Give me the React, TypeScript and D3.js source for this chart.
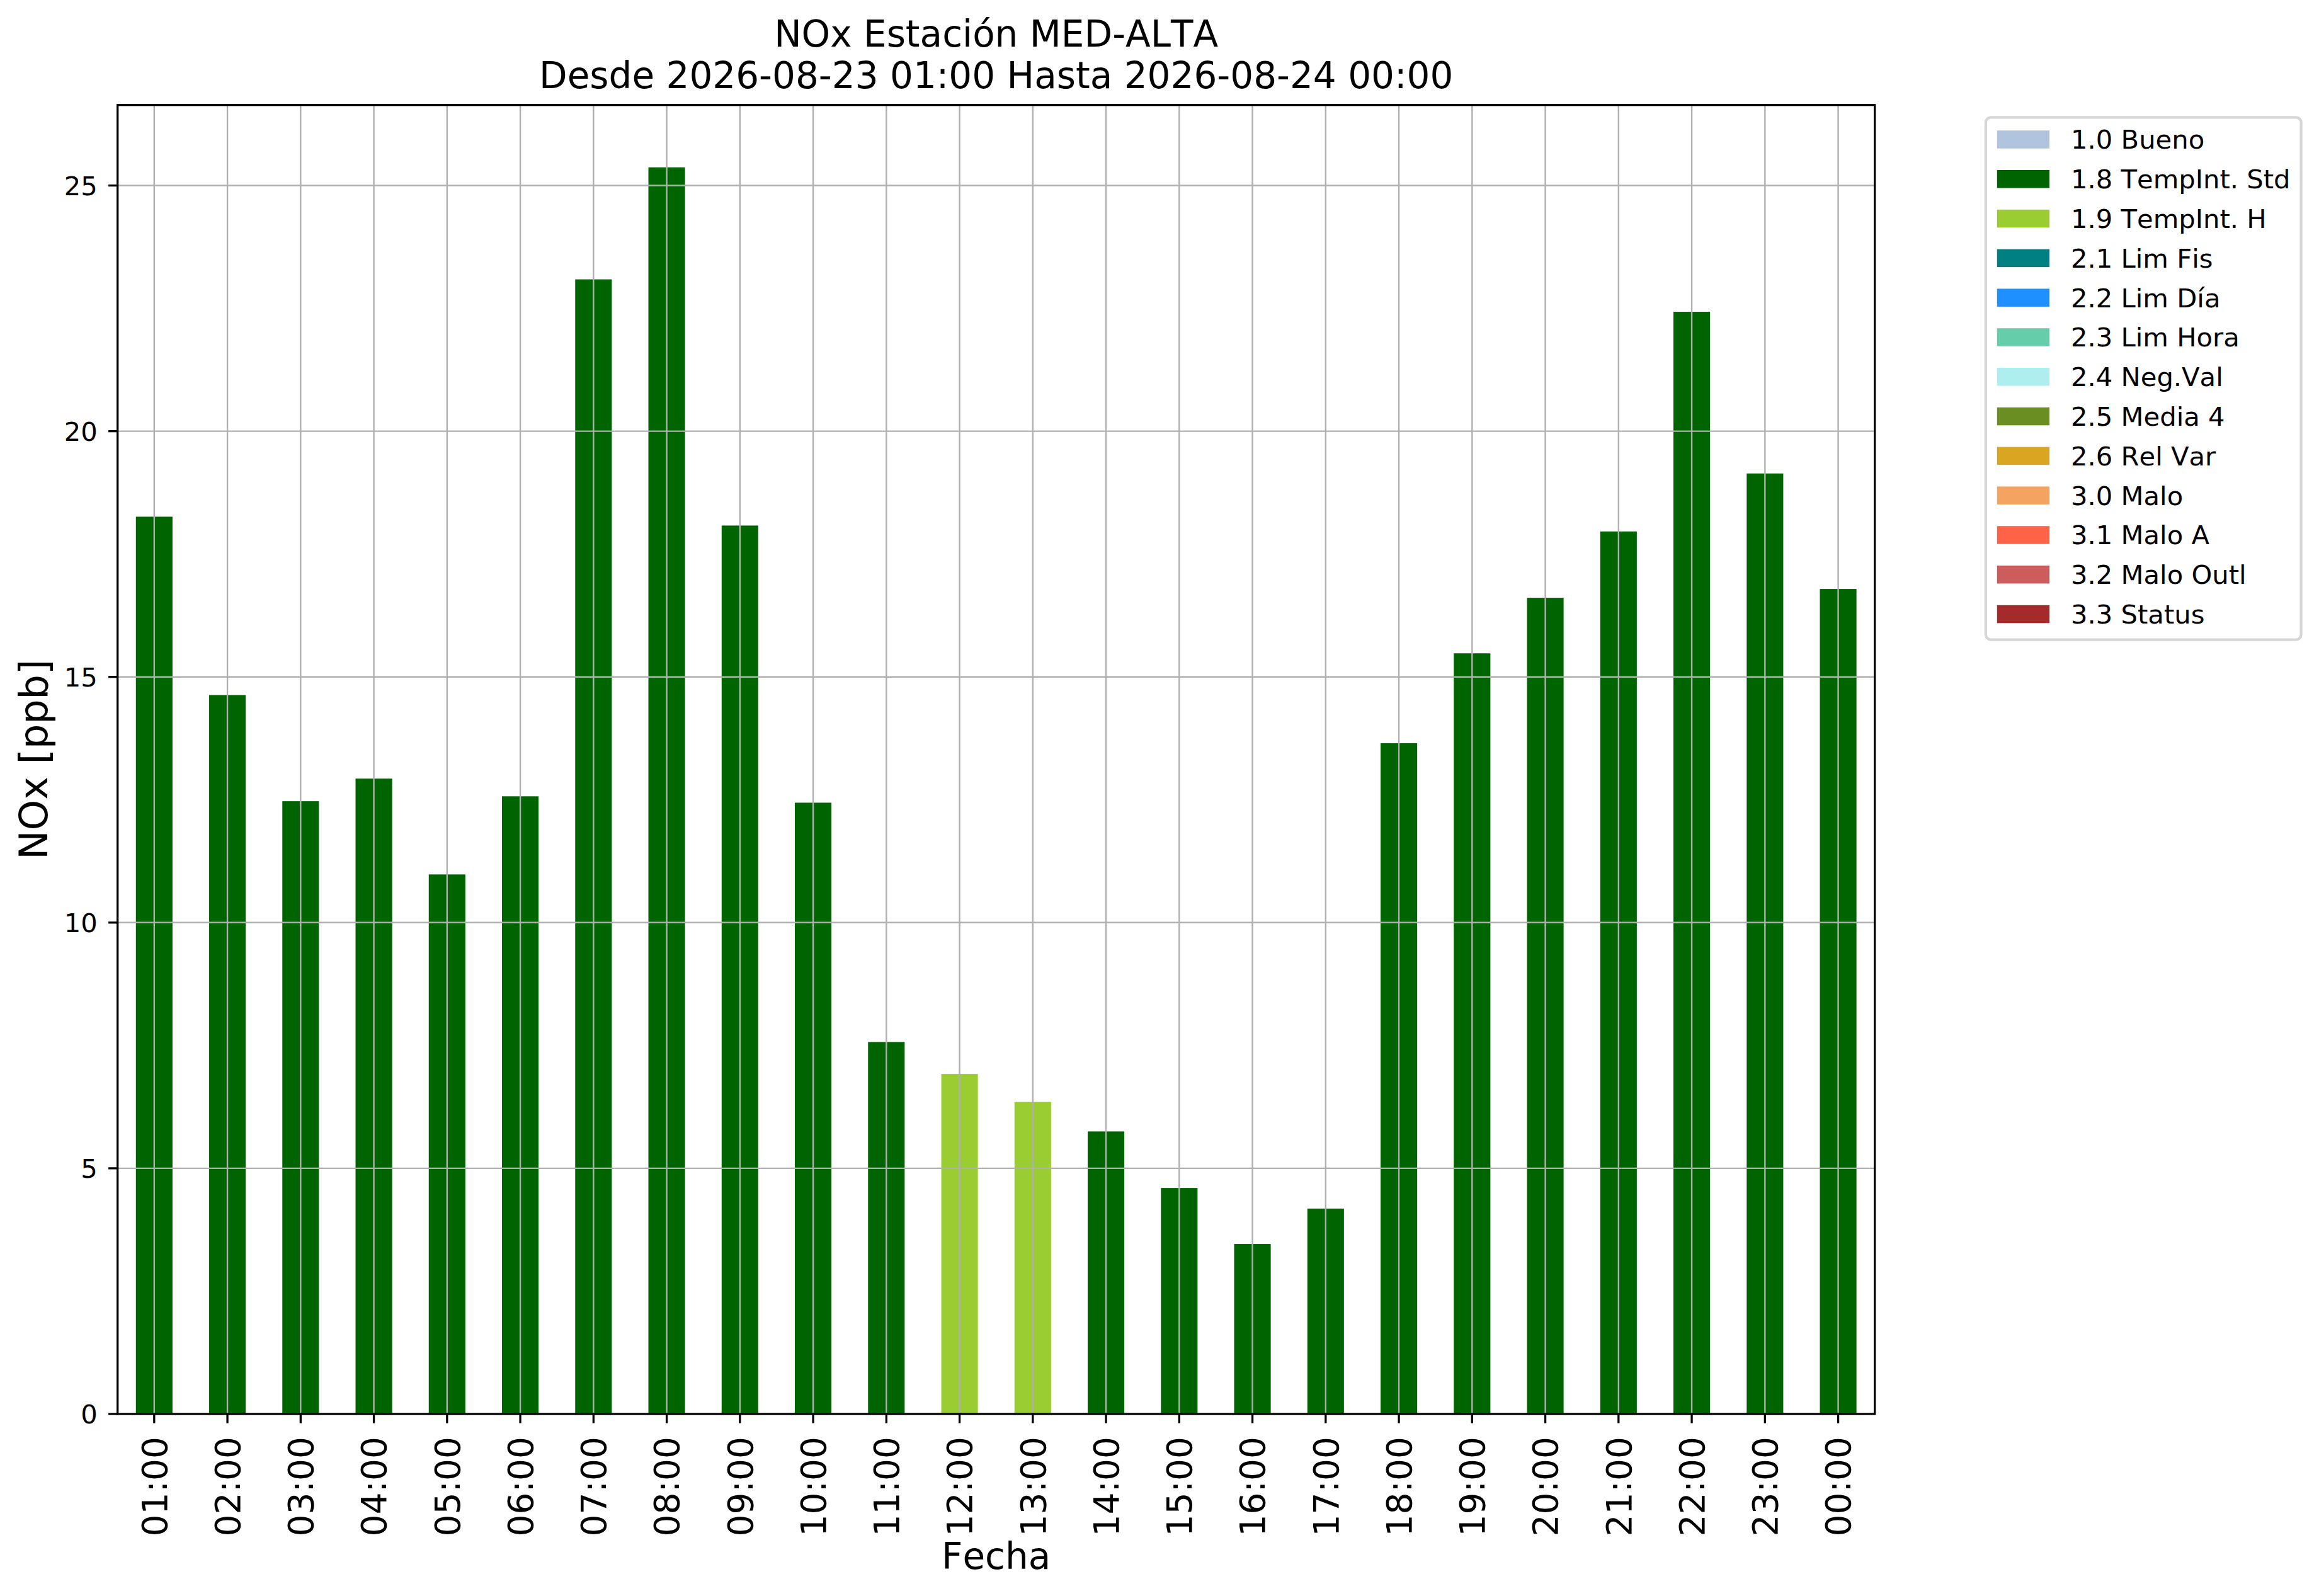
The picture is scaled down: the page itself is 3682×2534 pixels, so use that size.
import React from "react";
import { scaleBand, scaleLinear } from "d3";

const hours = [
  "01:00", "02:00", "03:00", "04:00", "05:00", "06:00", "07:00", "08:00",
  "09:00", "10:00", "11:00", "12:00", "13:00", "14:00", "15:00", "16:00",
  "17:00", "18:00", "19:00", "20:00", "21:00", "22:00", "23:00", "00:00"
];

const nox = [
  18.26, 14.63, 12.47, 12.93, 10.98, 12.57, 23.09, 25.37,
  18.08, 12.44, 7.57, 6.92, 6.35, 5.75, 4.6, 3.46,
  4.18, 13.65, 15.48, 16.61, 17.96, 22.43, 19.14, 16.79
];

// validation flag of each hour (code from the legend)
const flags = [
  "1.8", "1.8", "1.8", "1.8", "1.8", "1.8", "1.8", "1.8",
  "1.8", "1.8", "1.8", "1.9", "1.9", "1.8", "1.8", "1.8",
  "1.8", "1.8", "1.8", "1.8", "1.8", "1.8", "1.8", "1.8"
];

const legendCodes = ["1.0", "1.8", "1.9", "2.1", "2.2", "2.3", "2.4", "2.5", "2.6", "3.0", "3.1", "3.2", "3.3"];
const legendNames = [
  "Bueno", "TempInt. Std", "TempInt. H", "Lim Fis", "Lim Día", "Lim Hora",
  "Neg.Val", "Media 4", "Rel Var", "Malo", "Malo A", "Malo Outl", "Status"
];
const legendColors = [
  "#b0c4de", "#006400", "#9acd32", "#008080", "#1e90ff", "#66cdaa",
  "#afeeee", "#6b8e23", "#daa520", "#f4a460", "#ff6347", "#cd5c5c", "#a52a2a"
];

const yTicks = [0, 5, 10, 15, 20, 25];

const W = 3682;
const H = 2534;
const left = 186.7;
const right = 2976.7;
const top = 166.7;
const bottom = 2245;
const font = "DejaVu Sans";

export default function App() {
  const x = scaleBand<string>()
    .domain(hours)
    .range([left, right])
    .paddingInner(0.5)
    .paddingOuter(0.25);

  const yMax = Math.max(...nox) * 1.05;
  const y = scaleLinear().domain([0, yMax]).range([bottom, top]);

  const colorOf = (code: string) => legendColors[legendCodes.indexOf(code)];
  const midX = (left + right) / 2;
  const midY = (top + bottom) / 2;

  return (
    <svg
      width={W}
      height={H}
      viewBox={`0 0 ${W} ${H}`}
      style={{ position: "absolute", left: 0, top: 0, background: "#fff", fontKerning: "none" }}
      fontFamily={font}
    >
      {/* Title */}
      <text x={midX} y={74} textAnchor="middle" fontSize={58}>
        NOx Estación MED-ALTA
      </text>
      <text x={midX} y={140} textAnchor="middle" fontSize={58}>
        Desde 2026-08-23 01:00 Hasta 2026-08-24 00:00
      </text>

      {/* Bars */}
      {nox.map((v, i) => (
        <rect
          key={hours[i]}
          x={x(hours[i])}
          y={y(v)}
          width={x.bandwidth()}
          height={y(0) - y(v)}
          fill={colorOf(flags[i])}
        />
      ))}

      {/* Grid */}
      {yTicks.map((t) => (
        <line key={t} x1={left} x2={right} y1={y(t)} y2={y(t)} stroke="#b0b0b0" strokeWidth={2.4} />
      ))}
      {hours.map((h) => {
        const cx = x(h)! + x.bandwidth() / 2;
        return <line key={h} x1={cx} x2={cx} y1={top} y2={bottom} stroke="#b0b0b0" strokeWidth={2.4} />;
      })}

      {/* Frame */}
      <rect x={left} y={top} width={right - left} height={bottom - top} fill="none" stroke="#000" strokeWidth={3.3} />

      {/* Y axis */}
      {yTicks.map((t) => (
        <g key={t}>
          <line x1={left - 14.6} x2={left} y1={y(t)} y2={y(t)} stroke="#000" strokeWidth={3.3} />
          <text x={left - 32} y={y(t)} dy="0.36em" textAnchor="end" fontSize={41.7}>
            {t}
          </text>
        </g>
      ))}
      <text
        transform={`translate(75,${midY}) rotate(-90)`}
        textAnchor="middle"
        fontSize={62}
      >
        NOx [ppb]
      </text>

      {/* X axis */}
      {hours.map((h) => {
        const cx = x(h)! + x.bandwidth() / 2;
        return (
          <g key={h}>
            <line x1={cx} x2={cx} y1={bottom} y2={bottom + 14.6} stroke="#000" strokeWidth={3.3} />
            <text
              transform={`translate(${cx},${bottom + 36}) rotate(-90)`}
              dy="0.36em"
              textAnchor="end"
              fontSize={55}
            >
              {h}
            </text>
          </g>
        );
      })}
      <text x={midX} y={2491} textAnchor="middle" fontSize={58}>
        Fecha
      </text>

      {/* Legend */}
      <rect x={3152.9} y={186.4} width={3653.6 - 3152.9} height={1015.7 - 186.4} rx={8} fill="#fff" stroke="#d6d6d6" strokeWidth={4.2} />
      {legendCodes.map((c, i) => {
        const ry = 207.2 + i * 62.8;
        return (
          <g key={c}>
            <rect x={3170.8} y={ry} width={83.3} height={28.5} fill={legendColors[i]} />
            <text x={3288} y={ry + 14.25} dy="0.36em" fontSize={41.7}>
              {`${c} ${legendNames[i]}`}
            </text>
          </g>
        );
      })}
    </svg>
  );
}
